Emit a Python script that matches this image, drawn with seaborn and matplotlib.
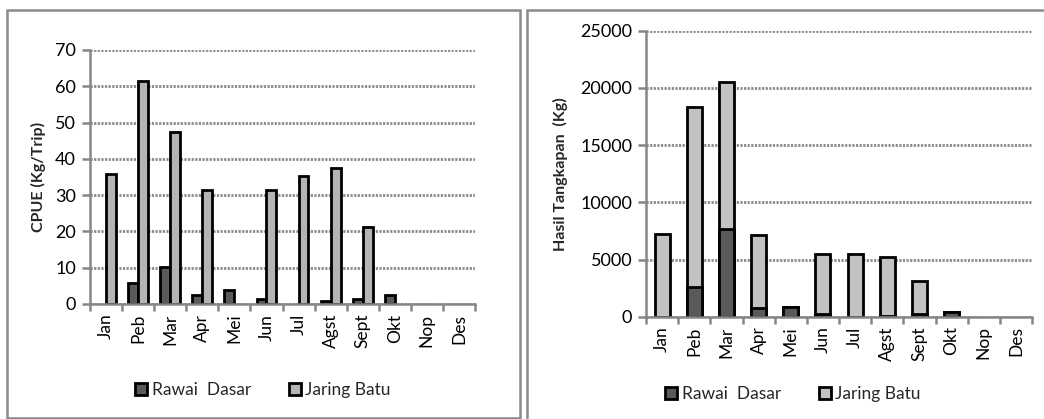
import matplotlib
matplotlib.use("Agg")
import matplotlib.pyplot as plt
from matplotlib.patches import Patch, Rectangle
import numpy as np
import pandas as pd
import seaborn as sns

# Months (Indonesian abbreviations)
months = ["Jan", "Peb", "Mar", "Apr", "Mei", "Jun", "Jul", "Agst", "Sept", "Okt", "Nop", "Des"]

# CPUE (Kg/Trip) per gear
cpue_rawai = [0, 5.9, 10.3, 2.5, 3.9, 1.3, 0, 0.8, 1.3, 2.5, 0, 0]
cpue_jaring = [35.7, 61.4, 47.4, 31.4, 0, 31.4, 35.3, 37.5, 21.1, 0, 0, 0]

# Catch (Kg) per gear
catch_rawai = [0, 2620, 7640, 730, 870, 200, 0, 100, 200, 440, 0, 0]
catch_jaring = [7200, 15740, 12900, 6390, 0, 5280, 5480, 5150, 2920, 0, 0, 0]

series_names = ["Rawai  Dasar", "Jaring Batu"]

C_RAWAI = "#5a5a5a"
C_JARING_L = "#b4b4b4"
C_JARING_R = "#c2c2c2"
GRID = "#8a8a8a"
AXIS = "#868686"

sns.set_theme(style="white")
plt.rcParams["font.family"] = ["Lato", "DejaVu Sans"]

W, H = 1044, 419
fig = plt.figure(figsize=(W / 100, H / 100), dpi=100)


def px_axes(x0, x1, y0, y1):
    return fig.add_axes([x0 / W, 1 - y1 / H, (x1 - x0) / W, (y1 - y0) / H])


def style_axes(ax, ymax, step):
    ax.set_ylim(0, ymax)
    ax.set_yticks(np.arange(0, ymax + step / 2, step))
    ax.set_xlim(-0.5, len(months) - 0.5)
    for s in ["top", "right"]:
        ax.spines[s].set_visible(False)
    for s in ["left", "bottom"]:
        ax.spines[s].set_color(AXIS)
        ax.spines[s].set_linewidth(1.8)
    ax.yaxis.grid(True, color=GRID, linestyle=(0, (0.8, 0.5)), linewidth=2.0)
    ax.xaxis.grid(False)
    ax.set_axisbelow(True)
    ax.tick_params(axis="y", which="major", direction="out", length=6, width=1.8,
                   color=AXIS, labelsize=13, left=True, pad=4)
    ax.tick_params(axis="x", which="major", length=0, labelsize=12.5, pad=7)
    ax.set_xticks(range(len(months)))
    ax.set_xticklabels(months, rotation=90)
    ax.set_xticks(np.arange(-0.5, len(months) + 0.5, 1), minor=True)
    ax.tick_params(axis="x", which="minor", direction="out", length=5, width=1.8,
                   color=AXIS, bottom=True)
    ax.set_xlabel("")
    for lab in ax.get_yticklabels() + ax.get_xticklabels():
        lab.set_color("black")


def hide_empty(ax):
    for p in ax.patches:
        if p.get_height() == 0:
            p.set_visible(False)


# ---- Left: CPUE grouped bars ----
ax1 = px_axes(90, 475, 50, 304)
df1 = pd.DataFrame({
    "Bulan": months * 2,
    "CPUE": cpue_rawai + cpue_jaring,
    "Alat": [series_names[0]] * 12 + [series_names[1]] * 12,
})
sns.barplot(data=df1, x="Bulan", y="CPUE", hue="Alat", order=months,
            hue_order=series_names, palette=[C_RAWAI, C_JARING_L],
            width=0.62, edgecolor="black", linewidth=2.0, saturation=1,
            legend=False, ax=ax1)
hide_empty(ax1)
style_axes(ax1, 70, 10)
ax1.set_ylabel("CPUE (Kg/Trip)", fontsize=11.5, fontweight="bold")
ax1.yaxis.set_label_coords(-44 / 385, 0.5)

h1 = [Patch(facecolor=C_RAWAI, edgecolor="black", linewidth=2.0),
      Patch(facecolor=C_JARING_L, edgecolor="black", linewidth=2.0)]
fig.legend(h1, series_names, loc="center", bbox_to_anchor=(263 / W, 1 - 390 / H),
           ncol=2, frameon=False, fontsize=12.5, handlelength=0.7, handleheight=0.7,
           handletextpad=0.25, columnspacing=2.2)

# ---- Right: stacked catch bars ----
ax2 = px_axes(646, 1032, 30.7, 316.7)
catch_total = [r + j for r, j in zip(catch_rawai, catch_jaring)]
sns.barplot(x=months, y=catch_total, order=months, color=C_JARING_R,
            width=0.47, edgecolor="black", linewidth=2.0, saturation=1, ax=ax2)
sns.barplot(x=months, y=catch_rawai, order=months, color=C_RAWAI,
            width=0.47, edgecolor="black", linewidth=2.0, saturation=1, ax=ax2)
hide_empty(ax2)
style_axes(ax2, 25000, 5000)
ax2.set_ylabel("Hasil Tangkapan  (Kg)", fontsize=11.5, fontweight="bold")
ax2.yaxis.set_label_coords(-78 / 386, 0.5)

h2 = [Patch(facecolor=C_RAWAI, edgecolor="black", linewidth=2.0),
      Patch(facecolor=C_JARING_R, edgecolor="black", linewidth=2.0)]
fig.legend(h2, series_names, loc="center", bbox_to_anchor=(793 / W, 1 - 394 / H),
           ncol=2, frameon=False, fontsize=12.5, handlelength=0.7, handleheight=0.7,
           handletextpad=0.25, columnspacing=2.2)

# ---- Panel frames ----
fig.patches.append(Rectangle((7 / W, 1 - 418 / H), (520 - 7) / W, (418 - 10) / H,
                             transform=fig.transFigure, fill=False,
                             edgecolor="#8a8a8a", linewidth=1.8))
fig.patches.append(Rectangle((527 / W, -0.1), 0.6, 1.1 - 10 / H,
                             transform=fig.transFigure, fill=False,
                             edgecolor="#8a8a8a", linewidth=1.8))

fig.savefig("out.png", dpi=100)
